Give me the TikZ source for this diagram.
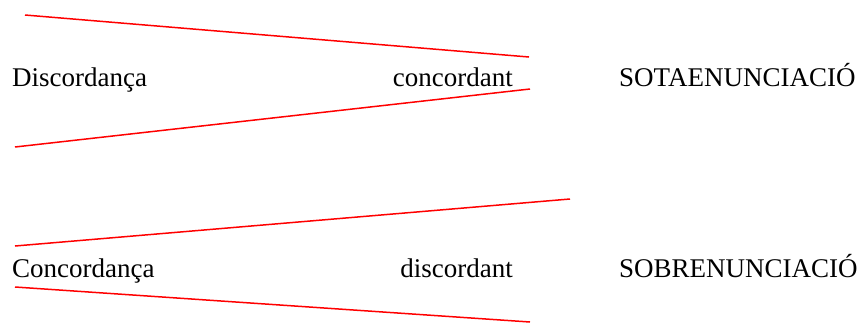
\documentclass[tikz,border=0pt]{standalone}
\usepackage{fontspec}
\setmainfont{Liberation Serif}
\usepackage{tikz}

\begin{document}
\begin{tikzpicture}[
    x=1pt,
    y=-1pt,
    trait/.style={
        draw=red,
        line width=1.5pt
    },
    mot/.style={
        inner sep=0pt,
        font=\fontsize{27}{31}\selectfont
    }
]
\useasboundingbox (0,0) rectangle (860,322);

% sous-enonciation
\node[mot, anchor=base west] (disc1) at (12,86) {Discordança};
\node[mot, anchor=base east] (conc1) at (513,86) {concordant};
\node[mot, anchor=base west] (sota) at (619,86) {SOTAENUNCIACIÓ};

\coordinate (a1) at (25,15);
\coordinate (b1) at (529,57);
\coordinate (a2) at (15,147);
\coordinate (b2) at (530,89);

\draw[trait] (a1) -- (b1);
\draw[trait] (a2) -- (b2);

% sur-enonciation
\node[mot, anchor=base west] (conc2) at (12,277) {Concordança};
\node[mot, anchor=base east] (disc2) at (513,277) {discordant};
\node[mot, anchor=base west] (sobre) at (619,277) {SOBRENUNCIACIÓ};

\coordinate (a3) at (15,246);
\coordinate (b3) at (570,199);
\coordinate (a4) at (15,287);
\coordinate (b4) at (530,322);

\draw[trait] (a3) -- (b3);
\draw[trait] (a4) -- (b4);

\end{tikzpicture}
\end{document}
